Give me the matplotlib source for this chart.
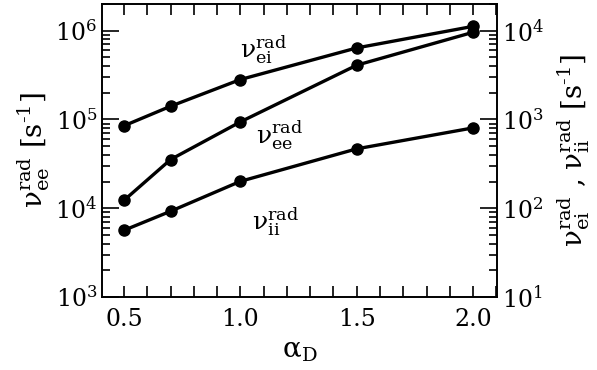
import matplotlib
matplotlib.use("Agg")
import matplotlib.pyplot as plt
from matplotlib.ticker import LogLocator, MultipleLocator, NullFormatter

plt.rcParams['font.family'] = ['DejaVu Serif']
plt.rcParams['mathtext.fontset'] = 'dejavuserif'

alpha_D = [0.5, 0.7, 1.0, 1.5, 2.0]
nu_ee = [1.23e4, 3.54e4, 9.4e4, 4.09e5, 9.6e5]      # left axis
nu_ei = [850, 1410, 2820, 6400, 11200]             # right axis
nu_ii = [56.5, 92.5, 201, 467, 804]                # right axis
xtick_labels = ['0.5', '1.0', '1.5', '2.0']
xticks = [0.5, 1.0, 1.5, 2.0]

fig = plt.figure(figsize=(5.97, 3.70), dpi=100)
ax = fig.add_axes([102/597, 1-297/370, (497-102)/597, (297-4)/370])
ax2 = ax.twinx()

lw = 2.4
ms = 8
ax.plot(alpha_D, nu_ee, color='black', lw=lw, marker='o', ms=ms)
ax2.plot(alpha_D, nu_ei, color='black', lw=lw, marker='o', ms=ms)
ax2.plot(alpha_D, nu_ii, color='black', lw=lw, marker='o', ms=ms)

ax.set_yscale('log')
ax2.set_yscale('log')
ax.set_ylim(1e3, 2e6)
ax2.set_ylim(1e1, 2e4)
ax.set_xlim(0.405, 2.103)

ax.set_xticks(xticks)
ax.set_xticklabels(xtick_labels)
ax.xaxis.set_minor_locator(MultipleLocator(0.1))

for a in (ax, ax2):
    a.yaxis.set_major_locator(LogLocator(base=10, numticks=10))
    a.yaxis.set_minor_locator(LogLocator(base=10, subs=range(2, 10), numticks=20))
    a.yaxis.set_minor_formatter(NullFormatter())
    for s in a.spines.values():
        s.set_linewidth(1.2)

ax.tick_params(axis='x', which='both', direction='in', top=True, bottom=True, labelsize=17, pad=8)
ax.tick_params(axis='x', which='major', length=8, width=1.2)
ax.tick_params(axis='x', which='minor', length=8, width=1.2)
ax.tick_params(axis='y', which='major', direction='in', left=True, right=False, length=12, width=1.2, labelsize=17)
ax.tick_params(axis='y', which='minor', direction='in', left=True, right=False, length=6, width=1.2)
ax2.tick_params(axis='y', which='major', direction='in', right=True, left=False, length=12, width=1.2, labelsize=17)
ax2.tick_params(axis='y', which='minor', direction='in', right=True, left=False, length=6, width=1.2)

nu = r'\mathrm{\nu}'
ax.set_xlabel(r'$\mathrm{\alpha}_{\mathrm{D}}$', fontsize=20, labelpad=4)
ax.set_ylabel(r'$%s^{\mathrm{rad}}_{\mathrm{ee}}$ [s$^{\text{-}1}$]' % nu, fontsize=20, labelpad=2)
ax2.set_ylabel(r'$%s^{\mathrm{rad}}_{\mathrm{ei}}$ , $%s^{\mathrm{rad}}_{\mathrm{ii}}$ [s$^{\text{-}1}$]' % (nu, nu),
               fontsize=20, labelpad=8)

ax.text(1.1, 6.0e5, r'$%s^{\mathrm{rad}}_{\mathrm{ei}}$' % nu, fontsize=18, ha='center', va='center')
ax.text(1.17, 6.6e4, r'$%s^{\mathrm{rad}}_{\mathrm{ee}}$' % nu, fontsize=18, ha='center', va='center')
ax.text(1.15, 7.0e3, r'$%s^{\mathrm{rad}}_{\mathrm{ii}}$' % nu, fontsize=18, ha='center', va='center')

fig.savefig('out.png', dpi=100)
